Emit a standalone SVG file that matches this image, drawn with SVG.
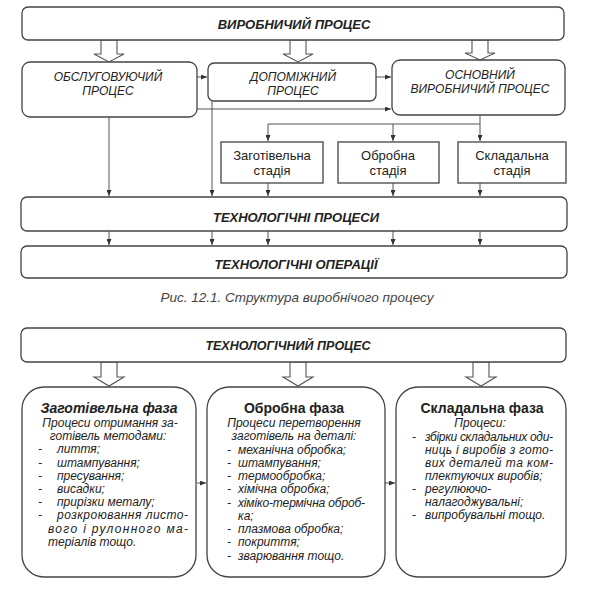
<svg xmlns="http://www.w3.org/2000/svg" width="600" height="589" viewBox="0 0 600 589">
<defs>
<marker id="ah" markerWidth="6" markerHeight="5" refX="6" refY="2.5" orient="auto" markerUnits="userSpaceOnUse">
<path d="M0,0 L6,2.5 L0,5 z" fill="#333"/>
</marker>
<style>
.box{fill:#fff;stroke:#444;stroke-width:1.3}
.ln{fill:none;stroke:#555;stroke-width:1}
.hol{fill:#fff;stroke:#555;stroke-width:1.1}
text{font-family:"Liberation Sans",Arial,sans-serif;fill:#222}
.tb{font-size:13px;font-weight:bold;font-style:italic;text-anchor:middle}
.tr{font-size:12px;font-style:italic;text-anchor:middle}
.ts{font-size:13px;text-anchor:middle}
.ph{font-size:14px;font-weight:bold;text-anchor:middle}
.bt{font-size:12px;font-style:italic}
.c{text-anchor:middle}
.cap{font-size:13.5px;font-style:italic;text-anchor:middle;fill:#444}
</style>
</defs>
<rect width="600" height="589" fill="#fff"/>

<g id="connectors">
<polygon class="hol" points="101,40 117,40 117,54 124,54 109,62 94,54 101,54"/>
<polygon class="hol" points="290,40 306,40 306,54 313,54 298,62 283,54 290,54"/>
<polygon class="hol" points="472,40 488,40 488,53 495,53 480,60 465,53 472,53"/>
<line class="ln" x1="197" y1="77" x2="207" y2="77" marker-end="url(#ah)"/>
<line class="ln" x1="376" y1="77" x2="391" y2="77" marker-end="url(#ah)"/>
<line class="ln" x1="197" y1="109" x2="391" y2="109" marker-end="url(#ah)"/>
<line class="ln" x1="109" y1="117" x2="109" y2="196" marker-end="url(#ah)"/>
<line class="ln" x1="212" y1="101" x2="212" y2="196" marker-end="url(#ah)"/>
<path class="ln" d="M480,115 V124 H268"/>
<line class="ln" x1="268" y1="124" x2="268" y2="141" marker-end="url(#ah)"/>
<line class="ln" x1="393" y1="124" x2="393" y2="141" marker-end="url(#ah)"/>
<line class="ln" x1="480" y1="124" x2="480" y2="141" marker-end="url(#ah)"/>
<line class="ln" x1="268" y1="183" x2="268" y2="196" marker-end="url(#ah)"/>
<line class="ln" x1="393" y1="183" x2="393" y2="196" marker-end="url(#ah)"/>
<line class="ln" x1="480" y1="183" x2="480" y2="196" marker-end="url(#ah)"/>
<line class="ln" x1="109" y1="231" x2="109" y2="245" marker-end="url(#ah)"/>
<line class="ln" x1="212" y1="231" x2="212" y2="245" marker-end="url(#ah)"/>
<line class="ln" x1="268" y1="231" x2="268" y2="245" marker-end="url(#ah)"/>
<line class="ln" x1="393" y1="231" x2="393" y2="245" marker-end="url(#ah)"/>
<line class="ln" x1="480" y1="231" x2="480" y2="245" marker-end="url(#ah)"/>
<polygon class="hol" points="101,362 117,362 117,377 124,377 109,386 94,377 101,377"/>
<polygon class="hol" points="290,362 306,362 306,377 313,377 298,386 283,377 290,377"/>
<polygon class="hol" points="473,362 489,362 489,377 496,377 481,386 466,377 473,377"/>
<line class="ln" x1="197" y1="483" x2="206" y2="483" marker-end="url(#ah)"/>
<line class="ln" x1="385" y1="483" x2="395" y2="483" marker-end="url(#ah)"/>
</g>

<g id="vyrobnychyi">
<rect class="box" x="22" y="7" width="542" height="33" rx="6"/>
<text class="tb" x="294" y="29">ВИРОБНИЧИЙ  ПРОЦЕС</text>
</g>
<g id="obsluhovuiuchyi">
<rect class="box" x="22" y="62" width="175" height="55" rx="8"/>
<text class="tr" x="108" y="81">ОБСЛУГОВУЮЧИЙ</text>
<text class="tr" x="108" y="95">ПРОЦЕС</text>
</g>
<g id="dopomizhnyi">
<rect class="box" x="208" y="63" width="168" height="38" rx="6"/>
<text class="tr" x="293" y="81">ДОПОМІЖНИЙ</text>
<text class="tr" x="293" y="95">ПРОЦЕС</text>
</g>
<g id="osnovnyi">
<rect class="box" x="392" y="60" width="173" height="55" rx="8"/>
<text class="tr" x="480" y="79">ОСНОВНИЙ</text>
<text class="tr" x="480" y="93">ВИРОБНИЧИЙ ПРОЦЕС</text>
</g>
<g id="zahot-stadiia">
<rect class="box" x="221" y="142" width="102" height="41"/>
<text class="ts" x="272" y="160">Заготівельна</text>
<text class="ts" x="272" y="175">стадія</text>
</g>
<g id="obrob-stadiia">
<rect class="box" x="338" y="142" width="101" height="41"/>
<text class="ts" x="388" y="160">Обробна</text>
<text class="ts" x="388" y="175">стадія</text>
</g>
<g id="sklad-stadiia">
<rect class="box" x="458" y="142" width="108" height="41"/>
<text class="ts" x="512" y="160">Складальна</text>
<text class="ts" x="512" y="175">стадія</text>
</g>
<g id="tekh-protsesy">
<rect class="box" x="21" y="197" width="546" height="34" rx="6"/>
<text class="tb" x="296" y="222">ТЕХНОЛОГІЧНІ  ПРОЦЕСИ</text>
</g>
<g id="tekh-operatsii">
<rect class="box" x="21" y="246" width="546" height="32" rx="6"/>
<text class="tb" x="296" y="269">ТЕХНОЛОГІЧНІ ОПЕРАЦІЇ</text>
</g>
<text class="cap" x="297" y="302">Рис. 12.1. Структура виробнічого процесу</text>

<g id="tekh-protses">
<rect class="box" x="21" y="328" width="545" height="34" rx="6"/>
<text class="tb" x="288" y="350" style="font-size:12.5px">ТЕХНОЛОГІЧНИЙ  ПРОЦЕС</text>
</g>

<g id="zahot-faza">
<rect class="box" x="22" y="387" width="174" height="190" rx="22"/>
<text class="ph" x="109" y="413" style="font-style:italic">Заготівельна фаза</text>
<text class="bt c" x="110" y="427">Процеси отримання за-</text>
<text class="bt c" x="108" y="440">готівель методами:</text>
<text class="bt" x="38" y="453">-</text><text class="bt" x="57" y="453">лиття;</text>
<text class="bt" x="38" y="467">-</text><text class="bt" x="57" y="467">штампування;</text>
<text class="bt" x="38" y="480">-</text><text class="bt" x="57" y="480">пресування;</text>
<text class="bt" x="38" y="493">-</text><text class="bt" x="57" y="493">висадки;</text>
<text class="bt" x="38" y="506">-</text><text class="bt" x="57" y="506">прирізки металу;</text>
<text class="bt" x="38" y="519">-</text><text class="bt" x="57" y="519" textLength="131" lengthAdjust="spacing">розкроювання листо-</text>
<text class="bt" x="48" y="533" textLength="140" lengthAdjust="spacing">вого і рулонного ма-</text>
<text class="bt" x="48" y="546">теріалів тощо.</text>
</g>

<g id="obrob-faza">
<rect class="box" x="207" y="387" width="178" height="190" rx="22"/>
<text class="ph" x="294" y="413">Обробна фаза</text>
<text class="bt c" x="294" y="427">Процеси перетворення</text>
<text class="bt c" x="294" y="440">заготівель на деталі:</text>
<text class="bt" x="227" y="454">-</text><text class="bt" x="238" y="454">механічна обробка;</text>
<text class="bt" x="227" y="467">-</text><text class="bt" x="238" y="467">штампування;</text>
<text class="bt" x="227" y="480">-</text><text class="bt" x="238" y="480">термообробка;</text>
<text class="bt" x="227" y="493">-</text><text class="bt" x="238" y="493">хімічна обробка;</text>
<text class="bt" x="227" y="507">-</text><text class="bt" x="238" y="507" textLength="127" lengthAdjust="spacing">хіміко-термічна оброб-</text>
<text class="bt" x="238" y="520">ка;</text>
<text class="bt" x="227" y="533">-</text><text class="bt" x="238" y="533">плазмова обробка;</text>
<text class="bt" x="227" y="546">-</text><text class="bt" x="238" y="546">покриття;</text>
<text class="bt" x="227" y="560">-</text><text class="bt" x="238" y="560">зварювання тощо.</text>
</g>

<g id="sklad-faza">
<rect class="box" x="396" y="387" width="170" height="190" rx="22"/>
<text class="ph" x="482" y="413">Складальна фаза</text>
<text class="bt c" x="480" y="427">Процеси:</text>
<text class="bt" x="412" y="441">-</text><text class="bt" x="425" y="441" textLength="128" lengthAdjust="spacing">збірки складальних оди-</text>
<text class="bt" x="425" y="454" textLength="128" lengthAdjust="spacing">ниць і виробів з гото-</text>
<text class="bt" x="425" y="467" textLength="128" lengthAdjust="spacing">вих деталей та ком-</text>
<text class="bt" x="425" y="480">плектуючих виробів;</text>
<text class="bt" x="412" y="493">-</text><text class="bt" x="425" y="493">регулюючо-</text>
<text class="bt" x="425" y="506">налагоджувальні;</text>
<text class="bt" x="412" y="519">-</text><text class="bt" x="425" y="519">випробувальні тощо.</text>
</g>
</svg>
